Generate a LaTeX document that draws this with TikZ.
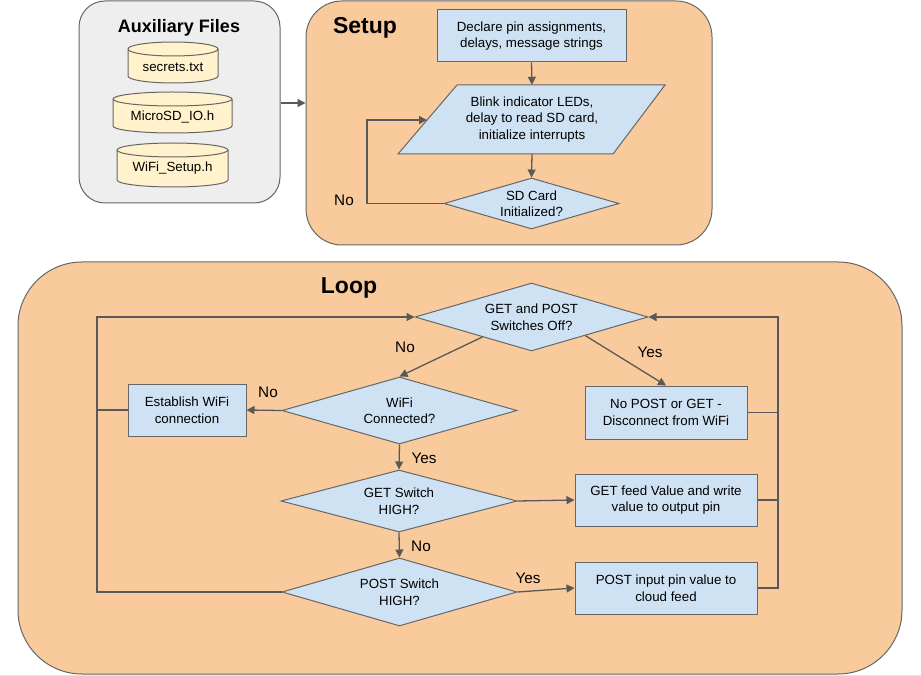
\documentclass[tikz,border=0pt]{standalone}
\usepackage{fontspec}
\setmainfont{Liberation Sans}
\usetikzlibrary{shapes.geometric,arrows.meta,calc}

\definecolor{edgegray}{HTML}{666666}
\definecolor{linegray}{HTML}{595959}
\definecolor{panelgray}{HTML}{EEEEEE}
\definecolor{peach}{HTML}{F9CB9C}
\definecolor{paleblue}{HTML}{CFE2F3}
\definecolor{cream}{HTML}{FFF2CC}
\definecolor{stripgray}{HTML}{E6E6E6}

\tikzset{
  txt/.style={font=\fontsize{13.3}{16.5}\selectfont, align=center, text=black},
  lbl/.style={font=\fontsize{15.3}{17}\selectfont, text=black, inner sep=0pt},
  panel/.style={draw=edgegray, line width=1pt},
  procbox/.style={txt, draw=edgegray, fill=paleblue, line width=1pt, inner sep=0pt},
  decision/.style={txt, diamond, draw=edgegray, fill=paleblue, line width=1pt, inner sep=0pt},
  flow/.style={draw=linegray, line width=1.3pt, -{Triangle[length=8pt,width=8pt]}},
  plain/.style={draw=linegray, line width=1.3pt},
  cylfill/.style={draw=edgegray, fill=cream, line width=1pt},
}

% file drum: #1 centre x, #2 top rim y, #3 bottom rim y, #4 half width
\newcommand{\filedrum}[4]{%
  \path[cylfill] (#1-#4,#2) -- (#1-#4,#3)
    arc[start angle=180, end angle=360, x radius=#4pt, y radius=7pt]
    -- (#1+#4,#2)
    arc[start angle=0, end angle=180, x radius=#4pt, y radius=7pt] -- cycle;
  \draw[edgegray, line width=1pt] (#1-#4,#2)
    arc[start angle=180, end angle=360, x radius=#4pt, y radius=7pt];
}

\begin{document}
\begin{tikzpicture}[x=1pt, y=-1pt]
\useasboundingbox (0,0) rectangle (921,676);
\fill[stripgray] (0,674.5) rectangle (921,676);

% ---------- panels ----------
\node[panel, fill=panelgray, rounded corners=26pt, minimum width=201pt, minimum height=202pt]
  (aux) at (179.5,102) {};
\node[panel, fill=peach, rounded corners=36pt, minimum width=406pt, minimum height=244pt]
  (setup) at (509,123) {};
\node[panel, fill=peach, rounded corners=64pt, minimum width=884pt, minimum height=412pt]
  (loop) at (460,468) {};

\node[font=\bfseries\fontsize{18}{20}\selectfont] (auxtitle) at (179,27.5) {Auxiliary Files};
\node[font=\bfseries\fontsize{23}{25}\selectfont] (setuptitle) at (365,28) {Setup};
\node[font=\bfseries\fontsize{23}{25}\selectfont] (looptitle) at (349,288) {Loop};

% ---------- auxiliary files ----------
\filedrum{173}{49}{76}{45}
\filedrum{172.5}{99}{126}{59.5}
\filedrum{172.5}{150}{180}{55.5}
\node[txt] (secrets) at (173,67) {secrets.txt};
\node[txt] (microsd) at (172.5,117) {MicroSD\_IO.h};
\node[txt] (wifisetup) at (172.5,168) {WiFi\_Setup.h};

\draw[flow] (aux.east |- 0,103) coordinate (auxout) -- (auxout -| setup.west);

% ---------- setup ----------
\node[procbox, minimum width=189pt, minimum height=52pt] (declare) at (531.5,36)
  {Declare pin assignments,\\delays, message strings};
\node[txt, inner sep=0pt, minimum width=210pt, minimum height=69pt] (blink) at (532,119.5) {};
\draw[edgegray, fill=paleblue, line width=1pt]
  (457,85) -- (665,85) -- (613,154) -- (398,154) -- cycle;
\node[txt] (blinktext) at (blink) {Blink indicator LEDs,\\delay to read SD card,\\initialize interrupts};
\node[decision, shape aspect=3.43, minimum width=175pt, minimum height=51pt] (sdcard) at (531.5,203.5)
  {SD Card\\Initialized?};

\coordinate (blinkL) at (427,120);
\coordinate (noSD) at (367,120);
\draw[flow] (declare.south) -- (blink.north);
\draw[flow] (blink.south) -- (sdcard.north);
\draw[flow] (sdcard.west) -| (noSD) -- (blinkL);
\node[lbl] (nosd) at (344,200) {No};

% ---------- loop ----------
\node[decision, shape aspect=3.43, minimum width=233pt, minimum height=68pt] (offsw) at (531.5,317)
  {GET and POST\\Switches Off?};
\node[decision, shape aspect=3.5, minimum width=235pt, minimum height=67pt] (wificon) at (399.5,410.5)
  {WiFi\\Connected?};
\node[decision, shape aspect=3.8, minimum width=236pt, minimum height=62pt] (getsw) at (399,501)
  {GET Switch\\HIGH?};
\node[decision, shape aspect=3.45, minimum width=235pt, minimum height=68pt] (postsw) at (399.5,592)
  {POST Switch\\HIGH?};

\node[procbox, minimum width=118pt, minimum height=52pt] (estab) at (187,410)
  {Establish WiFi\\connection};
\node[procbox, minimum width=162pt, minimum height=53pt] (nopost) at (666,412.5)
  {No POST or GET -\\Disconnect from WiFi};
\node[procbox, minimum width=182pt, minimum height=52pt] (getbox) at (666,500)
  {GET feed Value and write\\value to output pin};
\node[procbox, minimum width=182pt, minimum height=52pt] (postbox) at (666,588)
  {POST input pin value to\\cloud feed};

\coordinate (retL) at (97,317);
\coordinate (retR) at (778,317);

\draw[flow] ($(offsw.west)!0.58!(offsw.south)$) -- (wificon.north);
\node[lbl] (no1) at (405,347) {No};
\draw[flow] ($(offsw.east)!0.54!(offsw.south)$) -- (nopost.north);
\node[lbl] (yes1) at (650,352) {Yes};

\draw[flow] (wificon.west) -- (estab.east);
\node[lbl] (no2) at (268,392) {No};
\draw[flow] (wificon.south) -- (getsw.north);
\node[lbl] (yes2) at (424,458) {Yes};
\draw[flow] (getsw.east) -- (getbox.west);
\draw[flow] (getsw.south) -- (postsw.north);
\node[lbl] (no3) at (421,546) {No};
\draw[flow] (postsw.east) -- (postbox.west);
\node[lbl] (yes3) at (528,578) {Yes};

% return paths
\draw[flow] (postsw.west) -| (retL) -- (offsw.west);
\draw[plain] (estab.west) -- (estab.west -| retL);
\draw[flow] (postbox.east) -| (retR) -- (offsw.east);
\draw[plain] (getbox.east) -- (getbox.east -| retR);
\draw[plain] (nopost.east) -- (nopost.east -| retR);
\end{tikzpicture}
\end{document}
